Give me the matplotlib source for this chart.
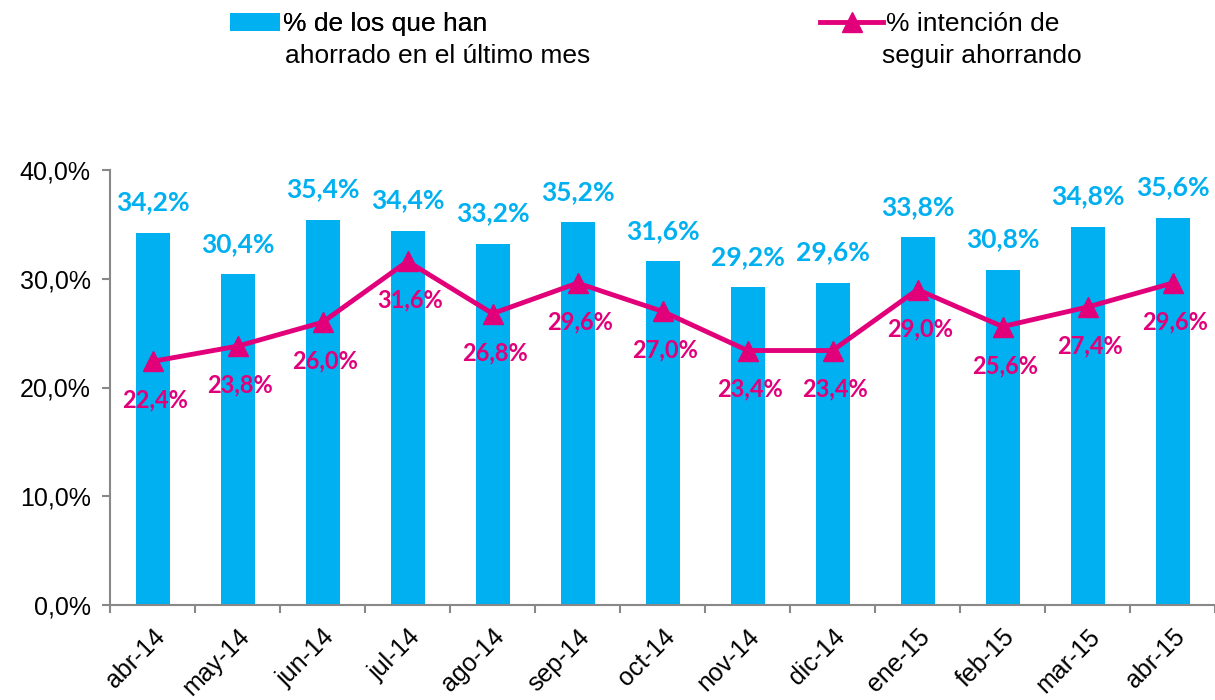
import matplotlib
matplotlib.use("Agg")
import matplotlib.pyplot as plt
import numpy as np
from matplotlib.ticker import FuncFormatter
from matplotlib.patches import Patch
from matplotlib.lines import Line2D

months = ["abr-14", "may-14", "jun-14", "jul-14", "ago-14", "sep-14", "oct-14",
          "nov-14", "dic-14", "ene-15", "feb-15", "mar-15", "abr-15"]
ahorrado = [34.2, 30.4, 35.4, 34.4, 33.2, 35.2, 31.6, 29.2, 29.6, 33.8, 30.8, 34.8, 35.6]
intencion = [22.4, 23.8, 26.0, 31.6, 26.8, 29.6, 27.0, 23.4, 23.4, 29.0, 25.6, 27.4, 29.6]
yticks = [0, 10, 20, 30, 40]
leg_bar = ["% de los que han", "ahorrado en el último mes"]
leg_line = ["% intención de", "seguir ahorrando"]

BLUE = "#00B0F0"
MAG = "#E2007A"
TXT = "Liberation Sans"
LBL = "Lato"

fig = plt.figure(figsize=(12.15, 7.0), dpi=100)
ax = fig.add_axes([110/1215, 1-605/700, 1-110/1215, (605-170)/700])

x = np.arange(len(months))
ax.bar(x, ahorrado, width=0.4, color=BLUE, zorder=2)
ax.plot(x, intencion, color=MAG, lw=3.5, marker="^", markersize=15, zorder=3)

for xi, v in zip(x, ahorrado):
    ax.annotate(f"{v:.1f}%".replace(".", ","), (xi, v), xytext=(0, 22),
                textcoords="offset points", ha="center", va="center",
                color=BLUE, fontsize=19, fontweight="bold", family=LBL)
for xi, v in zip(x, intencion):
    ax.annotate(f"{v:.1f}%".replace(".", ","), (xi, v), xytext=(2, -28),
                textcoords="offset points", ha="center", va="center",
                color=MAG, fontsize=17, fontweight="bold", family=LBL, zorder=4)

ax.set_xlim(-0.5, len(months) - 0.5)
ax.set_ylim(0, 40)
ax.set_yticks(yticks)
ax.yaxis.set_major_formatter(FuncFormatter(lambda v, p: f"{v:.1f}%".replace(".", ",")))
ax.set_xticks(x)
ax.set_xticklabels(months, rotation=45, ha="right", rotation_mode="anchor",
                   fontsize=18, family=TXT)
ax.set_xticks(np.arange(-0.5, len(months)), minor=True)
ax.tick_params(axis="x", which="major", length=0, pad=14)
ax.tick_params(axis="x", which="minor", length=6, color="#888888", width=1.5, direction="out")
ax.tick_params(axis="y", length=6, color="#888888", width=1.5, labelsize=18, pad=8)
for lab in ax.get_yticklabels():
    lab.set_family(TXT)

for s in ["top", "right"]:
    ax.spines[s].set_visible(False)
for s in ["left", "bottom"]:
    ax.spines[s].set_color("#888888")
    ax.spines[s].set_linewidth(1.5)

h1 = Patch(facecolor=BLUE)
h2 = Line2D([], [], color=MAG, lw=3.5, marker="^", markersize=15)
prop = {"family": TXT, "size": 19}
leg1 = fig.legend([h1], [leg_bar[0]], loc="upper left",
                  bbox_to_anchor=(230/1215, 1-12/700), frameon=False, prop=prop,
                  handlelength=1.9, handletextpad=0.1, borderaxespad=0, borderpad=0)
leg2 = fig.legend([h2], [leg_line[0]], loc="upper left",
                  bbox_to_anchor=(820/1215, 1-12/700), frameon=False, prop=prop,
                  handlelength=2.4, handletextpad=0.1, borderaxespad=0, borderpad=0)
fig.add_artist(leg1)
fig.text(285/1215, 1-56/700, leg_bar[1], family=TXT, size=19, va="center", ha="left")
fig.text(882/1215, 1-56/700, leg_line[1], family=TXT, size=19, va="center", ha="left")

fig.savefig("out.png", dpi=100)
